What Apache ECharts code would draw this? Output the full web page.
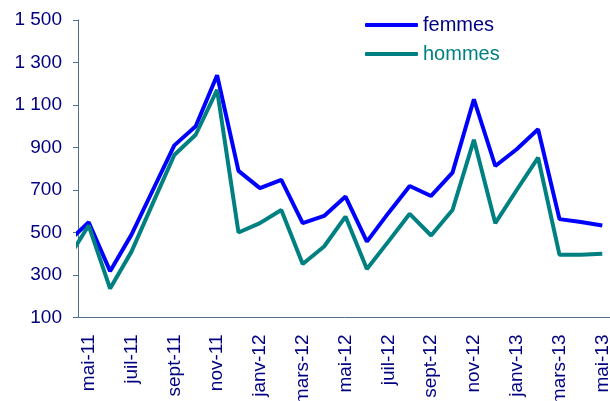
<!DOCTYPE html>
<html>
<head>
<meta charset="utf-8">
<script src="https://cdn.jsdelivr.net/npm/echarts@6/dist/echarts.min.js"></script>
<style>
  html, body { margin: 0; padding: 0; background: #fff; }
  #chart { width: 610px; height: 401px; }
</style>
</head>
<body>
<div id="chart"></div>
<script>
// avr-11 is only partly visible (clipped by the axis)
var mois = ['avr-11', 'mai-11', 'juin-11', 'juil-11', 'août-11', 'sept-11', 'oct-11', 'nov-11', 'déc-11',
    'janv-12', 'févr-12', 'mars-12', 'avr-12', 'mai-12', 'juin-12', 'juil-12', 'août-12', 'sept-12',
    'oct-12', 'nov-12', 'déc-12', 'janv-13', 'févr-13', 'mars-13', 'avr-13', 'mai-13'];
var femmes = [453, 548, 318, 490, 700, 910, 1000, 1240, 790, 709, 748, 544, 578, 669, 457, 591, 719,
    672, 782, 1127, 813, 892, 986, 563, 549, 533];
var hommes = [373, 533, 236, 410, 638, 865, 960, 1171, 500, 544, 606, 352, 434, 575, 328, 457, 588,
    486, 606, 936, 544, 700, 852, 395, 395, 400];
var yTicks = { min: 100, max: 1500, step: 200 };

var axisColor = '#4f6f8f';
var labelColor = '#000080';
var font = 'Liberation Sans, Arial, sans-serif';

// points sit in the middle of their month; first month of the axis is mois[1]
var toPoints = function(vals) {
    var pts = [];
    vals.forEach(function(v, i) {
        pts.push([i - 0.5, v]);
    });
    return pts;
};

var myChart = echarts.init(document.getElementById('chart'));
var option = {
    animation: false,
    textStyle: { fontFamily: font },
    grid: { left: 78, top: 20, right: -3, bottom: 83.5, outerBoundsMode: 'none', containLabel: false },
    legend: {
        orient: 'vertical',
        left: 360,
        top: 10,
        itemWidth: 53,
        itemHeight: 4,
        itemGap: 9,
        textStyle: { fontSize: 20, fontFamily: font },
        data: [
            { name: 'femmes', icon: 'roundRect', itemStyle: { color: '#0000ff' }, textStyle: { color: labelColor } },
            { name: 'hommes', icon: 'roundRect', itemStyle: { color: '#008080' }, textStyle: { color: '#008080' } }
        ]
    },
    xAxis: [{
        type: 'value',
        min: 0,
        max: mois.length - 1,
        show: false
    }, {
        type: 'category',
        position: 'bottom',
        boundaryGap: true,
        data: mois.slice(1),
        axisLine: { lineStyle: { color: axisColor, width: 1 } },
        axisTick: { interval: 1, length: 5, lineStyle: { color: axisColor } },
        axisLabel: {
            interval: 1,
            rotate: 90,
            margin: 17,
            fontSize: 19,
            color: labelColor,
            fontFamily: font
        }
    }],
    yAxis: {
        type: 'value',
        min: yTicks.min,
        max: yTicks.max,
        interval: yTicks.step,
        splitLine: { show: false },
        axisLine: { show: true, lineStyle: { color: axisColor, width: 1 } },
        axisTick: { show: true, length: 5, lineStyle: { color: axisColor } },
        axisLabel: {
            margin: 16,
            fontSize: 19,
            color: labelColor,
            fontFamily: font,
            formatter: function(v) {
                return String(v).replace(/\B(?=(\d{3})+(?!\d))/g, ' ');
            }
        }
    },
    series: [{
        name: 'femmes',
        type: 'line',
        xAxisIndex: 0,
        data: toPoints(femmes),
        symbol: 'none',
        clip: true,
        lineStyle: { color: '#0000ff', width: 4 },
        itemStyle: { color: '#0000ff' }
    }, {
        name: 'hommes',
        type: 'line',
        xAxisIndex: 0,
        data: toPoints(hommes),
        symbol: 'none',
        clip: true,
        lineStyle: { color: '#008080', width: 4 },
        itemStyle: { color: '#008080' }
    }]
};
option && myChart.setOption(option);
</script>
</body>
</html>
